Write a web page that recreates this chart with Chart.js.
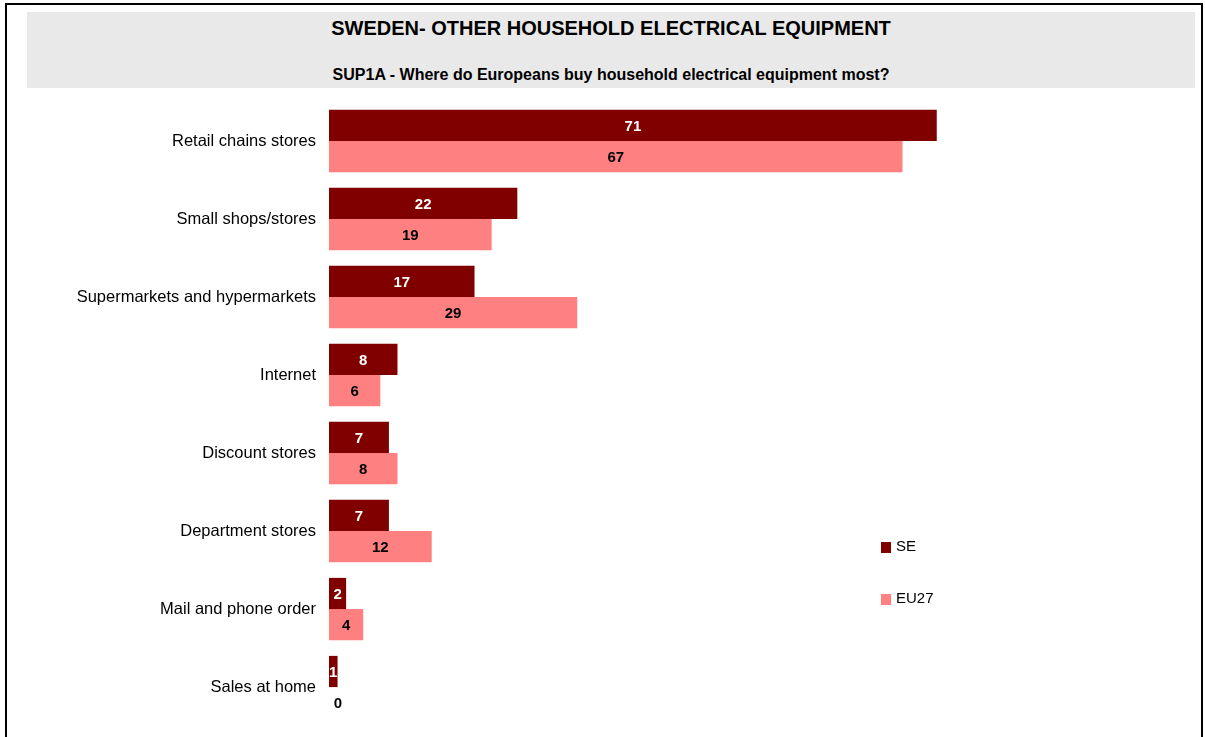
<!DOCTYPE html>
<html>
<head>
<meta charset="utf-8">
<script src="https://cdn.jsdelivr.net/npm/chart.js@4/dist/chart.umd.min.js"></script>
<style>
  html, body { margin: 0; padding: 0; background: #fff; }
  body { width: 1205px; height: 737px; position: relative; overflow: hidden; font-family: "Liberation Sans", Arial, sans-serif; }
  #marco { position: absolute; left: 5px; top: 3px; width: 1194px; height: 800px; border: 2px solid #000; }
  #cabecera { position: absolute; left: 27px; top: 12px; width: 1168px; height: 76px; background: #e9e9e9; }
  .tit { position: absolute; left: 0; width: 100%; text-align: center; font-weight: bold; color: #000; white-space: nowrap; }
  #titulo { top: 5px; font-size: 20px; }
  #subtitulo { top: 54px; font-size: 16px; }
  #grafico { position: absolute; left: 0; top: 0; }
</style>
</head>
<body>
<div id="marco"></div>
<div id="cabecera">
  <div class="tit" id="titulo">SWEDEN- OTHER HOUSEHOLD ELECTRICAL EQUIPMENT</div>
  <div class="tit" id="subtitulo">SUP1A - Where do Europeans buy household electrical equipment most?</div>
</div>
<canvas id="grafico" width="1205" height="749"></canvas>
<script>
// datos del grafico
var categorias = ['Retail chains stores', 'Small shops/stores', 'Supermarkets and hypermarkets', 'Internet',
                  'Discount stores', 'Department stores', 'Mail and phone order', 'Sales at home'];
var valoresSE = [71, 22, 17, 8, 7, 7, 2, 1];
var valoresEU27 = [67, 19, 29, 6, 8, 12, 4, 0];
var maxEje = 100;

var fuente = '"Liberation Sans", Arial, sans-serif';

// etiquetas con el valor dentro de cada barra
var etiquetasValor = {
  id: 'etiquetasValor',
  afterDatasetsDraw: function(chart) {
    var ctx = chart.ctx;
    ctx.save();
    ctx.font = 'bold 15px ' + fuente;
    ctx.textAlign = 'center';
    ctx.textBaseline = 'middle';
    chart.data.datasets.forEach(function(ds, i) {
      var meta = chart.getDatasetMeta(i);
      meta.data.forEach(function(barra, j) {
        var v = ds.data[j];
        var x = (barra.x + barra.base) / 2;
        if (v === 0) x = barra.base + 9;
        ctx.fillStyle = ds.colorEtiqueta;
        ctx.fillText(String(v), x, barra.y + 1);
      });
    });
    ctx.restore();
  }
};

// leyenda a la derecha, abajo
var leyenda = {
  id: 'leyenda',
  afterDraw: function(chart) {
    var ctx = chart.ctx;
    ctx.save();
    ctx.font = '15px ' + fuente;
    ctx.textAlign = 'left';
    ctx.textBaseline = 'middle';
    chart.data.datasets.forEach(function(ds, i) {
      var y = 547 + i * 52;
      ctx.fillStyle = ds.backgroundColor;
      ctx.fillRect(881, y - 5, 10, 11);
      ctx.fillStyle = '#000';
      ctx.fillText(ds.label, 896, y);
    });
    ctx.restore();
  }
};

var GraficoBarras = new Chart(document.getElementById('grafico'), {
  type: 'bar',
  data: {
    labels: categorias,
    datasets: [{
      label: 'SE',
      data: valoresSE,
      backgroundColor: '#800000',
      colorEtiqueta: '#ffffff',
      borderWidth: 0,
      categoryPercentage: 0.8,
      barPercentage: 1.0
    }, {
      label: 'EU27',
      data: valoresEU27,
      backgroundColor: '#ff8080',
      colorEtiqueta: '#000000',
      borderWidth: 0,
      categoryPercentage: 0.8,
      barPercentage: 1.0
    }]
  },
  options: {
    indexAxis: 'y',
    responsive: false,
    animation: false,
    layout: { padding: { top: 102, bottom: 11, left: 0, right: 20 } },
    plugins: {
      legend: { display: false },
      tooltip: { enabled: false }
    },
    scales: {
      x: { display: false, min: 0, max: maxEje },
      y: {
        grid: { display: false, drawTicks: false },
        border: { display: false },
        ticks: { color: '#000', padding: 13, font: { family: fuente, size: 16.5 } },
        afterFit: function(escala) { escala.width = 329; }
      }
    }
  },
  plugins: [etiquetasValor, leyenda]
});
</script>
</body>
</html>
